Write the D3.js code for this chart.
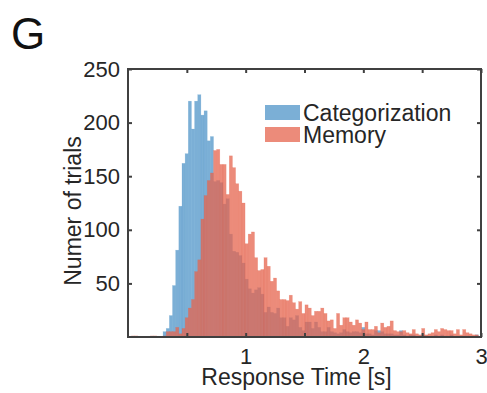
<!DOCTYPE html>
<html>
<head>
<meta charset="utf-8">
<script src="https://cdn.jsdelivr.net/npm/d3@7"></script>
<style>
  body { margin: 0; background: #fff; }
  svg { display: block; font-family: "Liberation Sans", Arial, Helvetica, sans-serif; }
</style>
</head>
<body>
<div id="vis"></div>
<script>
// Histograma de tiempos de respuesta (bins iguales para ambas series)
const BIN_START = 0.03;
const BIN_WIDTH = 0.0268;

// Conteos por bin
const categorization = [
  0, 0, 0, 0, 0, 0, 0, 0, 0, 0,
  5, 8, 20, 48, 81, 122, 162, 171, 220, 194,
  220, 226, 207, 211, 183, 187, 145, 146, 144, 124,
  129, 96, 80, 79, 76, 69, 54, 45, 41, 44,
  46, 40, 23, 28, 23, 22, 27, 18, 18, 10,
  18, 16, 20, 9, 6, 14, 14, 8, 14, 9,
  5, 5, 9, 5, 4, 3, 4, 7, 5, 4,
  5, 5, 4, 9, 3, 3, 2, 6, 6, 5,
  3, 3, 3, 2, 2, 6, 2, 1, 2, 2,
  1, 1, 2, 1, 0, 1, 2, 1, 2, 1,
  1, 2, 0, 1, 0, 1, 1, 0, 0, 2
];

const memory = [
  1, 1, 0, 0, 0, 0, 1, 1, 0, 0,
  1, 5, 5, 5, 9, 3, 8, 18, 27, 35,
  61, 72, 110, 132, 146, 153, 174, 175, 161, 161,
  133, 169, 158, 143, 136, 125, 87, 96, 98, 74,
  62, 63, 74, 66, 52, 55, 43, 35, 35, 34,
  39, 32, 26, 33, 22, 30, 27, 20, 24, 24,
  27, 22, 15, 16, 8, 22, 11, 18, 18, 14,
  11, 16, 13, 7, 14, 7, 7, 10, 4, 13,
  9, 10, 15, 6, 5, 5, 6, 4, 3, 7,
  3, 2, 8, 2, 3, 4, 7, 5, 8, 7,
  6, 6, 3, 7, 2, 7, 4, 3, 2, 2
];

const xTicks = [0.5, 1, 1.5, 2, 2.5, 3];
const xLabels = [1, 2, 3];
const yTicks = [50, 100, 150, 200, 250];

const series = [
  { name: "Categorization", counts: categorization, fill: "#5a9bcc", opacity: 0.8, legend: "#7bafd6" },
  { name: "Memory", counts: memory, fill: "#e6644e", opacity: 0.75, legend: "#ec8b7a" },
];

const WIDTH = 487;
const HEIGHT = 393;
const PLOT = { left: 128, right: 481, top: 69, bottom: 337 };
const AXIS_COLOR = "#404040";
const TEXT_COLOR = "#262626";

const svg = d3.select("#vis").append("svg")
  .attr("width", WIDTH)
  .attr("height", HEIGHT);

const x = d3.scaleLinear().domain([0, 3]).range([PLOT.left, PLOT.right]);
const y = d3.scaleLinear().domain([0, 250]).range([PLOT.bottom, PLOT.top]);

// Barras
series.forEach(s => {
  const bins = s.counts.map((c, i) => ({
    x0: BIN_START + i * BIN_WIDTH,
    x1: BIN_START + (i + 1) * BIN_WIDTH,
    count: c
  })).filter(d => d.count > 0);

  svg.append("g")
    .attr("class", "bars")
    .selectAll("rect")
    .data(bins)
    .join("rect")
    .attr("x", d => x(d.x0))
    .attr("width", d => x(d.x1) - x(d.x0))
    .attr("y", d => y(d.count))
    .attr("height", d => y(0) - y(d.count))
    .attr("fill", s.fill)
    .attr("fill-opacity", s.opacity)
    .attr("stroke", s.fill)
    .attr("stroke-opacity", 0.35)
    .attr("stroke-width", 0.5);
});

// Ejes (ticks hacia adentro, estilo MATLAB)
const fmtX = d => xLabels.includes(d) ? d : "";
const axes = [
  svg.append("g").attr("transform", `translate(0,${PLOT.bottom})`)
    .call(d3.axisBottom(x).tickValues(xTicks).tickSize(-4).tickPadding(11).tickFormat(fmtX)),
  svg.append("g").attr("transform", `translate(0,${PLOT.top})`)
    .call(d3.axisTop(x).tickValues(xTicks).tickSize(-4).tickFormat("")),
  svg.append("g").attr("transform", `translate(${PLOT.left},0)`)
    .call(d3.axisLeft(y).tickValues(yTicks).tickSize(-4).tickPadding(8)),
  svg.append("g").attr("transform", `translate(${PLOT.right},0)`)
    .call(d3.axisRight(y).tickValues(yTicks).tickSize(-4).tickFormat("")),
];

axes.forEach(g => {
  g.select(".domain").remove();
  g.selectAll(".tick line").attr("stroke", AXIS_COLOR).attr("stroke-width", 2);
  // quitar etiquetas vacias
  g.selectAll(".tick text").filter(function () { return this.textContent === ""; }).remove();
  g.selectAll(".tick text")
    .attr("fill", TEXT_COLOR)
    .attr("font-size", 22)
    .attr("font-family", "Liberation Sans, Arial, sans-serif");
});

// Caja
svg.append("rect")
  .attr("x", PLOT.left)
  .attr("y", PLOT.top)
  .attr("width", PLOT.right - PLOT.left)
  .attr("height", PLOT.bottom - PLOT.top)
  .attr("fill", "none")
  .attr("stroke", AXIS_COLOR)
  .attr("stroke-width", 2);

// Titulos de ejes
svg.append("text")
  .attr("x", (x(1) + x(2)) / 2 - 8)
  .attr("y", 385)
  .attr("text-anchor", "middle")
  .attr("font-size", 23)
  .attr("fill", TEXT_COLOR)
  .text("Response Time [s]");

svg.append("text")
  .attr("transform", "translate(81,211) rotate(-90)")
  .attr("text-anchor", "middle")
  .attr("font-size", 23)
  .attr("fill", TEXT_COLOR)
  .text("Numer of trials");

// Letra del panel
svg.append("text")
  .attr("x", 11)
  .attr("y", 49)
  .attr("font-size", 44)
  .attr("fill", "#111")
  .text("G");

// Leyenda
const legend = svg.append("g").attr("transform", "translate(265,105)");
legend.selectAll("g")
  .data(series)
  .join("g")
  .attr("transform", (d, i) => `translate(0,${i * 22})`)
  .each(function (d) {
    const g = d3.select(this);
    g.append("rect")
      .attr("width", 35)
      .attr("height", 15)
      .attr("fill", d.legend);
    g.append("text")
      .attr("x", 38)
      .attr("y", 16)
      .attr("font-size", 23)
      .attr("fill", TEXT_COLOR)
      .text(d.name);
  });
</script>
</body>
</html>
